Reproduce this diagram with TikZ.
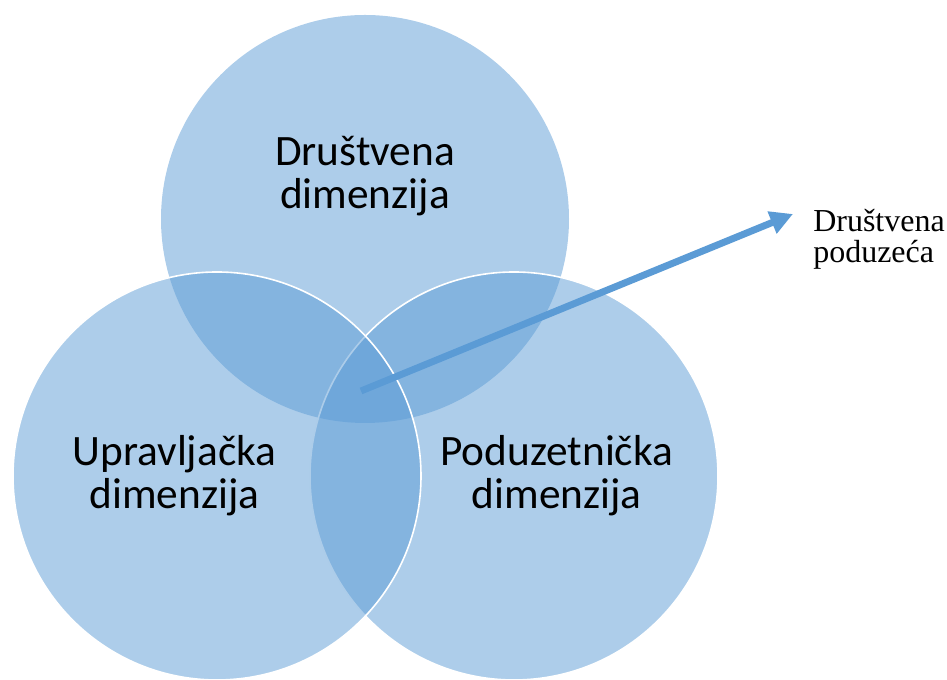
\documentclass[tikz,border=0pt]{standalone}
\usepackage{fontspec}
\setmainfont{Liberation Serif}
\newfontfamily\calibrifont{Carlito}
\usetikzlibrary{positioning, arrows.meta}
\usepackage{xcolor}
\definecolor{accentblue}{RGB}{91, 155, 213}

\begin{document}
\begin{tikzpicture}[
  x=0.75pt, y=0.75pt,
  venn/.style={circle, fill=accentblue, fill opacity=0.5, draw=white, line width=1.2pt, minimum size=306pt, inner sep=0pt},
  dim/.style={align=center, inner sep=0pt, font=\calibrifont\fontsize{32.5}{32}\selectfont},
  note/.style={align=left, inner sep=0pt, font=\fontsize{24}{23.5}\selectfont},
  arrow/.style={-{Triangle[length=17pt, width=17pt]}, line width=5.2pt, accentblue}
]
\useasboundingbox (0,0) rectangle (947,680);

% Circles
\node[venn, draw=none] (drustvena) at (365,461) {};
\node[venn] (poduzetnicka) at (514,204) {};
\node[venn] (upravljacka) at (217,204) {};

% Labels
\node[dim, yshift=32pt] (drustvenaL) at (drustvena) {Društvena\\dimenzija};
\node[dim, xshift=-32pt] (upravljackaL) at (upravljacka) {Upravljačka\\dimenzija};
\node[dim, xshift=32pt] (poduzetnickaL) at (poduzetnicka) {Poduzetnička\\dimenzija};
\node[note, anchor=west] (poduzeca) at (813,441) {Društvena\\poduzeća};

% Arrow
\coordinate (core) at (361,289);
\coordinate (tip) at (793,466);
\draw[arrow] (core) -- (tip);

\end{tikzpicture}
\end{document}
